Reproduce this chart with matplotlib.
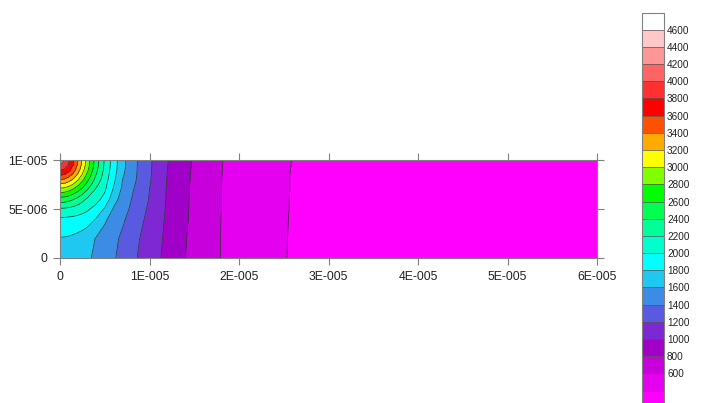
import matplotlib
matplotlib.use("Agg")
import matplotlib.pyplot as plt
import numpy as np
from matplotlib.colors import BoundaryNorm, ListedColormap

plt.rcParams["font.family"] = ["Liberation Sans", "DejaVu Sans"]

# grid positions in units of 1E-005
x_nodes = [0, 0.05, 0.1, 0.15, 0.2, 0.25, 0.3, 0.4, 0.5, 0.6, 0.7, 0.8,
           0.9, 1.0, 1.2, 1.4, 1.6, 1.8, 2.0, 2.5, 3.0, 4.0, 6.0]
y_nodes = [0, 0.2, 0.4, 0.5, 0.6, 0.7, 0.75, 0.8, 0.85, 0.9, 0.95, 1.0]

# estimated field values, one row per y node (bottom to top)
row_y000 = [1720, 1718, 1710, 1698, 1682, 1660, 1634, 1566, 1493, 1419, 1337, 1251,
            1170, 1094, 946, 801, 697, 597, 542, 404, 346, 310, 300]
row_y020 = [1789, 1786, 1777, 1761, 1739, 1711, 1677, 1593, 1519, 1444, 1365, 1278,
            1192, 1114, 958, 808, 700, 597, 542, 405, 347, 310, 300]
row_y040 = [1973, 1970, 1965, 1955, 1945, 1928, 1900, 1797, 1633, 1524, 1429, 1333,
            1238, 1145, 970, 819, 705, 599, 544, 406, 348, 311, 300]
row_y050 = [2175, 2170, 2155, 2130, 2100, 2068, 2035, 1938, 1778, 1579, 1474, 1369,
            1267, 1166, 977, 823, 708, 601, 545, 407, 349, 311, 300]
row_y060 = [2515, 2503, 2468, 2411, 2338, 2253, 2182, 2070, 1937, 1675, 1518, 1398,
            1295, 1189, 980, 824, 708, 601, 545, 407, 349, 311, 300]
row_y070 = [2940, 2921, 2864, 2778, 2672, 2552, 2422, 2180, 2030, 1775, 1560, 1427,
            1311, 1199, 984, 827, 710, 601, 545, 408, 349, 311, 300]
row_y075 = [3168, 3145, 3080, 2979, 2846, 2702, 2552, 2259, 2059, 1809, 1580, 1447,
            1326, 1211, 988, 829, 711, 602, 545, 408, 349, 311, 300]
row_y080 = [3398, 3372, 3290, 3168, 3019, 2846, 2672, 2343, 2092, 1843, 1598, 1467,
            1339, 1218, 992, 832, 712, 602, 546, 408, 349, 311, 300]
row_y085 = [3624, 3591, 3490, 3344, 3168, 2979, 2778, 2411, 2122, 1865, 1623, 1476,
            1345, 1224, 996, 836, 714, 603, 546, 408, 349, 311, 300]
row_y090 = [3820, 3773, 3657, 3490, 3290, 3080, 2864, 2468, 2150, 1886, 1644, 1483,
            1348, 1228, 999, 838, 715, 604, 547, 409, 349, 311, 300]
row_y095 = [4011, 3935, 3773, 3591, 3372, 3145, 2921, 2503, 2166, 1894, 1652, 1487,
            1350, 1229, 1005, 841, 717, 605, 548, 410, 350, 312, 300]
row_y100 = [4150, 4011, 3820, 3624, 3398, 3168, 2940, 2515, 2174, 1897, 1657, 1490,
            1352, 1230, 1008, 843, 718, 606, 548, 410, 350, 312, 300]

levels = list(range(200, 4801, 200))
level_colors = ["#ff00ff", "#e600f0", "#c800dc", "#a000c8", "#7d28d2", "#5a5ae0",
                "#3c8ce6", "#1ec8f0", "#00ffff", "#00ffcc", "#00ff99", "#00ff50",
                "#00ff00", "#80ff00", "#ffff00", "#ffaa00", "#ff5000", "#ff0000",
                "#ff3030", "#ff6464", "#ff9696", "#ffc8c8", "#ffffff"]
cbar_ticks = list(range(600, 4601, 200))

x_ticks = [0, 1e-5, 2e-5, 3e-5, 4e-5, 5e-5, 6e-5]
x_tick_labels = ["0", "1E-005", "2E-005", "3E-005", "4E-005", "5E-005", "6E-005"]
y_ticks = [0, 5e-6, 1e-5]
y_tick_labels = ["0", "5E-006", "1E-005"]

x = np.array(x_nodes) * 1e-5
y = np.array(y_nodes) * 1e-5
Z = np.array([row_y000, row_y020, row_y040, row_y050, row_y060, row_y070,
              row_y075, row_y080, row_y085, row_y090, row_y095, row_y100], dtype=float)
X, Y = np.meshgrid(x, y)

cmap = ListedColormap(level_colors)
norm = BoundaryNorm(levels, cmap.N)

fig = plt.figure(figsize=(7.06, 4.03), dpi=100)
ax = fig.add_axes([60 / 706, 1 - 258 / 403, 537 / 706, 98 / 403])

cf = ax.contourf(X, Y, Z, levels=levels, cmap=cmap, norm=norm)
ax.contour(X, Y, Z, levels=levels, colors="#333333", linewidths=0.5)

ax.set_xlim(0, 6e-5)
ax.set_ylim(0, 1e-5)
ax.set_xticks(x_ticks)
ax.set_xticklabels(x_tick_labels)
ax.set_yticks(y_ticks)
ax.set_yticklabels(y_tick_labels)
ax.tick_params(axis="both", direction="out", length=5, width=0.8, color="#808080",
               labelsize=8.8, labelcolor="#222222", pad=4,
               top=True, right=True, labeltop=False, labelright=False)
for spine in ax.spines.values():
    spine.set_color("#808080")
    spine.set_linewidth(0.8)

cax = fig.add_axes([641.7 / 706, 1 - 407.7 / 403, 22.6 / 706, 395.2 / 403])
cbar = fig.colorbar(cf, cax=cax, ticks=cbar_ticks, drawedges=True)
cbar.minorticks_off()
cbar.dividers.set_color("#555555")
cbar.dividers.set_linewidth(0.5)
cbar.outline.set_edgecolor("#808080")
cbar.outline.set_linewidth(0.8)
cbar.ax.tick_params(which="both", length=0, labelsize=7.2, labelcolor="#222222", pad=2)
cbar.ax.set_yticklabels([str(t) for t in cbar_ticks])

fig.savefig("out.png", dpi=100)
